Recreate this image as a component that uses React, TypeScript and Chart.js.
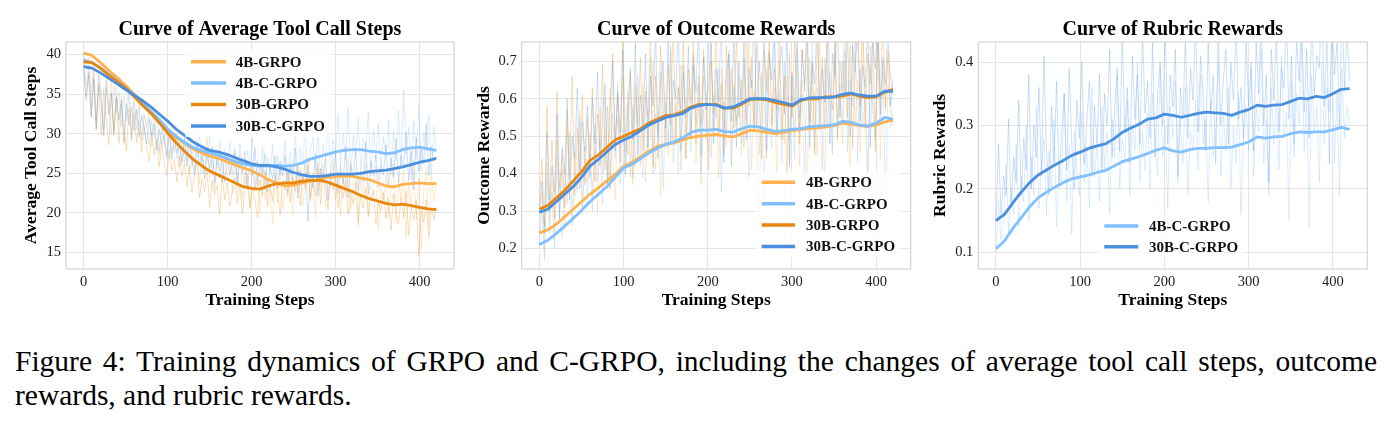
import { useEffect, useRef } from "react";
import { Chart, registerables } from "chart.js";

Chart.register(...registerables);

const SERIF = '"Liberation Serif", "Times New Roman", Times, serif';
Chart.defaults.font.family = SERIF;

const FRAME = "#d4d4d4";
const GRID = "#e6e6e6";

// Series colours
const C_4B = "#ffb24e";
const C_4BC = "#80c0ff";
const C_30B = "#e8870e";
const C_30BC = "#4a8fe0";

// Smoothed curves are sampled every 10 training steps, per-step values every 3.
const SMOOTH_STEP = 10;
const RAW_STEP = 3;

const X_MIN = -21;
const X_MAX = 441;
const X_TICKS = [0, 100, 200, 300, 400];
const TOOL_Y_TICKS = [15, 20, 25, 30, 35, 40];
const OUTCOME_Y_TICKS = [0.2, 0.3, 0.4, 0.5, 0.6, 0.7];
const RUBRIC_Y_TICKS = [0.1, 0.2, 0.3, 0.4];

// ---- Average tool call steps ----
const TOOL_4B_SMOOTH = [40.2, 39.9, 39.0, 38.0, 37.1, 36.1, 35.0, 33.8, 32.6, 31.5, 30.3, 29.5, 28.8, 28.1, 27.6, 27.2, 26.9, 26.5, 26.1, 25.7, 25.3, 24.8, 24.2, 23.7, 23.4, 23.5, 23.8, 24.0, 24.2, 24.5, 24.6, 24.6, 24.6, 24.4, 24.2, 23.8, 23.4, 23.3, 23.6, 23.7, 23.8, 23.7, 23.7];
const TOOL_4BC_SMOOTH = [39.3, 39.0, 38.3, 37.5, 36.7, 35.8, 34.8, 33.8, 32.8, 31.8, 30.6, 29.7, 28.9, 28.3, 27.9, 27.6, 27.3, 26.9, 26.5, 26.2, 26.0, 25.9, 25.9, 26.0, 25.9, 26.0, 26.3, 26.8, 27.1, 27.4, 27.7, 27.9, 28.0, 28.0, 27.8, 27.7, 27.5, 27.6, 28.0, 28.2, 28.3, 28.1, 27.9];
const TOOL_30B_SMOOTH = [39.1, 39.0, 38.3, 37.4, 36.6, 35.8, 34.7, 33.6, 32.6, 31.4, 30.1, 28.9, 27.8, 26.8, 26.0, 25.3, 24.8, 24.3, 23.8, 23.3, 23.1, 23.0, 23.4, 23.7, 23.8, 23.8, 24.0, 24.1, 24.1, 23.9, 23.5, 23.1, 22.7, 22.2, 21.8, 21.5, 21.2, 21.0, 21.1, 20.9, 20.7, 20.5, 20.4];
const TOOL_30BC_SMOOTH = [38.5, 38.3, 37.7, 37.0, 36.3, 35.6, 34.9, 34.2, 33.4, 32.5, 31.6, 30.6, 29.8, 29.0, 28.4, 27.9, 27.7, 27.4, 27.0, 26.6, 26.2, 26.0, 26.0, 25.8, 25.5, 25.1, 24.8, 24.6, 24.6, 24.7, 24.9, 24.9, 24.9, 25.0, 25.2, 25.3, 25.4, 25.6, 25.8, 26.1, 26.4, 26.6, 26.9];

const TOOL_4B_RAW = [
  40.4, 38.1, 39.6, 35.2, 38.9, 31.4, 37.8, 34.6, 29.9, 37.2, 32.8, 36.9, 29.7, 35.9, 31.1, 34.8, 28.6, 33.4, 36.1, 30.2,
  34.3, 31.6, 33.8, 29.7, 32.5, 30.8, 33.1, 28.4, 31.9, 29.6, 27.3, 31.2, 28.8, 30.4, 26.9, 29.8, 27.6, 30.1, 25.8, 28.7,
  26.4, 29.3, 24.9, 27.8, 25.6, 28.9, 23.7, 27.2, 25.1, 29.6, 24.3, 26.8, 22.9, 27.5, 25.4, 23.8, 28.1, 24.6, 26.9, 22.4,
  26.3, 23.1, 27.4, 21.8, 25.2, 23.9, 20.6, 26.1, 22.7, 24.8, 19.9, 25.7, 21.6, 24.2, 22.9, 18.7, 24.6, 21.3, 25.9, 20.4,
  23.8, 21.9, 26.4, 19.8, 24.7, 22.6, 25.8, 20.9, 23.5, 27.1, 21.4, 24.9, 19.3, 25.6, 22.8, 26.2, 20.7, 24.1, 23.2, 26.8,
  21.5, 25.3, 19.6, 24.4, 22.1, 26.9, 20.3, 23.8, 25.1, 18.4, 24.6, 21.9, 26.2, 19.7, 23.4, 22.5, 25.8, 17.9, 23.7, 21.2,
  24.9, 19.4, 22.8, 26.3, 18.6, 24.1, 21.7, 25.4, 16.9, 23.6, 20.8, 26.7, 19.1, 24.3, 15.4, 22.9, 25.8, 18.3, 24.6, 21.4,
  23.9,
];
const TOOL_4BC_RAW = [
  39.6, 36.1, 38.7, 33.4, 38.1, 31.6, 37.3, 35.2, 30.5, 36.8, 33.9, 29.8, 36.1, 32.7, 35.3, 30.9, 34.8, 31.6, 35.1, 29.2,
  33.9, 30.6, 33.2, 29.1, 32.4, 30.9, 28.5, 31.7, 29.4, 32.2, 27.8, 30.6, 28.9, 26.7, 30.3, 27.5, 29.6, 26.9, 28.8, 25.9,
  29.4, 26.6, 31.5, 25.8, 28.7, 27.1, 30.2, 24.9, 28.1, 26.4, 29.7, 24.6, 27.8, 25.7, 29.1, 23.9, 27.4, 26.2, 28.9, 24.8,
  27.6, 24.1, 28.8, 25.3, 23.6, 27.9, 25.9, 29.4, 23.2, 26.7, 24.5, 28.3, 22.9, 26.9, 25.2, 28.6, 23.8, 27.3, 24.7, 26.4,
  29.1, 23.9, 27.6, 25.4, 30.2, 24.6, 28.3, 26.1, 31.4, 24.2, 27.9, 29.6, 25.3, 30.7, 23.8, 28.6, 26.9, 31.8, 25.1, 29.2,
  27.4, 32.6, 25.8, 30.1, 26.7, 33.4, 24.9, 29.8, 27.6, 31.9, 25.4, 29.3, 28.1, 32.8, 24.6, 30.4, 26.9, 31.2, 25.7, 29.6,
  27.2, 31.7, 24.8, 30.3, 26.6, 32.9, 25.9, 35.5, 27.4, 30.8, 24.3, 31.6, 26.8, 33.7, 25.2, 30.1, 28.4, 32.4, 24.7, 30.9,
  28.3,
];
const TOOL_30B_RAW = [
  38.9, 34.2, 37.8, 32.1, 37.0, 30.5, 36.4, 29.8, 35.6, 31.9, 28.6, 35.1, 30.4, 34.6, 28.8, 33.7, 30.9, 27.8, 33.2, 29.4,
  32.6, 28.9, 31.7, 27.6, 30.9, 28.2, 26.5, 30.1, 27.4, 29.3, 25.8, 28.6, 26.1, 24.7, 27.9, 25.3, 26.8, 23.9, 27.1, 24.6,
  26.3, 23.4, 25.9, 22.6, 24.8, 26.7, 21.9, 24.3, 22.8, 25.6, 20.7, 24.1, 22.3, 23.5, 19.8, 24.6, 21.7, 23.9, 20.9, 22.6,
  24.4, 21.2, 23.6, 19.9, 22.8, 24.9, 20.6, 23.3, 21.8, 19.4, 24.2, 22.1, 25.3, 20.8, 23.7, 21.5, 24.8, 22.6, 19.7, 24.1,
  22.9, 25.6, 21.3, 24.4, 22.7, 26.1, 20.9, 24.8, 23.1, 25.9, 21.8, 24.5, 22.2, 26.4, 21.1, 24.9, 23.6, 20.4, 25.2, 22.8,
  24.6, 20.7, 23.2, 21.9, 24.3, 19.8, 22.8, 21.1, 23.9, 18.9, 22.4, 20.6, 23.1, 19.5, 21.9, 22.7, 18.6, 21.4, 20.2, 22.6,
  19.3, 21.8, 17.8, 22.4, 20.1, 18.6, 21.9, 19.4, 22.8, 17.2, 20.7, 19.1, 21.6, 14.6, 20.3, 18.8, 21.7, 16.9, 20.6, 19.2,
  20.8,
];
const TOOL_30BC_RAW = [
  38.1, 34.6, 37.4, 32.2, 36.9, 30.6, 36.1, 33.8, 29.7, 35.9, 32.4, 35.2, 29.9, 34.7, 31.8, 34.3, 28.9, 33.8, 31.1, 33.5,
  30.4, 33.1, 29.6, 32.3, 30.8, 28.7, 31.9, 29.8, 31.2, 27.9, 30.6, 28.6, 29.9, 27.2, 30.1, 26.8, 29.4, 27.6, 28.9, 26.4,
  29.3, 25.9, 28.4, 26.7, 24.8, 28.9, 26.1, 27.8, 24.3, 27.9, 25.6, 28.4, 23.7, 27.1, 25.3, 26.8, 23.9, 27.6, 24.8, 26.3,
  28.1, 23.6, 26.9, 25.1, 27.8, 22.9, 26.4, 24.7, 28.3, 23.4, 26.1, 24.9, 27.5, 22.6, 25.8, 24.3, 27.2, 23.1, 26.5, 24.6,
  27.3, 22.4, 25.9, 24.1, 28.2, 21.8, 25.3, 23.7, 26.8, 18.9, 24.6, 23.2, 27.4, 22.1, 25.6, 23.9, 26.9, 21.6, 25.1, 24.3,
  27.6, 22.5, 25.8, 23.6, 28.4, 21.9, 26.2, 24.4, 27.8, 22.8, 25.3, 23.9, 28.9, 22.3, 26.6, 24.7, 27.3, 23.2, 25.9, 24.8,
  28.6, 23.1, 26.9, 24.5, 29.4, 23.8, 27.2, 25.6, 30.2, 24.1, 27.8, 22.9, 29.6, 25.3, 28.1, 26.2, 31.3, 24.7, 28.4, 26.5,
  27.1,
];

// ---- Outcome rewards ----
const OUT_4B_SMOOTH = [0.242, 0.25, 0.265, 0.285, 0.305, 0.325, 0.345, 0.362, 0.38, 0.398, 0.42, 0.43, 0.445, 0.46, 0.472, 0.478, 0.482, 0.49, 0.497, 0.5, 0.503, 0.505, 0.5, 0.498, 0.507, 0.516, 0.514, 0.51, 0.507, 0.51, 0.515, 0.518, 0.52, 0.522, 0.525, 0.528, 0.535, 0.532, 0.528, 0.526, 0.53, 0.538, 0.543];
const OUT_4BC_SMOOTH = [0.211, 0.222, 0.24, 0.26, 0.28, 0.302, 0.325, 0.345, 0.365, 0.39, 0.415, 0.425, 0.44, 0.455, 0.468, 0.478, 0.485, 0.495, 0.51, 0.516, 0.516, 0.518, 0.512, 0.511, 0.52, 0.527, 0.525, 0.518, 0.513, 0.515, 0.518, 0.52, 0.525, 0.527, 0.528, 0.53, 0.54, 0.537, 0.53, 0.527, 0.535, 0.55, 0.545];
const OUT_30B_SMOOTH = [0.305, 0.315, 0.335, 0.355, 0.38, 0.405, 0.435, 0.45, 0.47, 0.49, 0.5, 0.51, 0.52, 0.535, 0.545, 0.555, 0.557, 0.565, 0.578, 0.585, 0.585, 0.585, 0.575, 0.575, 0.585, 0.598, 0.6, 0.597, 0.59, 0.585, 0.58, 0.595, 0.6, 0.6, 0.605, 0.605, 0.607, 0.613, 0.607, 0.603, 0.605, 0.617, 0.625];
const OUT_30BC_SMOOTH = [0.297, 0.305, 0.325, 0.345, 0.365, 0.39, 0.42, 0.438, 0.458, 0.478, 0.49, 0.5, 0.515, 0.53, 0.54, 0.55, 0.555, 0.56, 0.575, 0.582, 0.585, 0.583, 0.575, 0.578, 0.588, 0.6, 0.6, 0.6, 0.595, 0.59, 0.583, 0.597, 0.602, 0.603, 0.603, 0.605, 0.612, 0.615, 0.61, 0.607, 0.607, 0.62, 0.62];

const OUT_4B_RAW = [
  0.24, 0.35, 0.19, 0.43, 0.27, 0.38, 0.22, 0.49, 0.30, 0.41, 0.25, 0.53, 0.33, 0.28, 0.46, 0.36, 0.57, 0.31, 0.44, 0.38,
  0.51, 0.34, 0.47, 0.29, 0.58, 0.40, 0.52, 0.36, 0.63, 0.43, 0.33, 0.55, 0.47, 0.66, 0.39, 0.59, 0.45, 0.37, 0.61, 0.50,
  0.42, 0.64, 0.38, 0.57, 0.49, 0.70, 0.41, 0.55, 0.34, 0.67, 0.52, 0.45, 0.73, 0.48, 0.59, 0.40, 0.69, 0.53, 0.44, 0.63,
  0.50, 0.71, 0.43, 0.60, 0.37, 0.66, 0.55, 0.46, 0.75, 0.51, 0.62, 0.39, 0.68, 0.56, 0.47, 0.72, 0.42, 0.64, 0.53, 0.58,
  0.45, 0.69, 0.54, 0.76, 0.41, 0.62, 0.50, 0.27, 0.67, 0.57, 0.44, 0.73, 0.52, 0.63, 0.38, 0.70, 0.55, 0.48, 0.66, 0.43,
  0.61, 0.50, 0.74, 0.42, 0.65, 0.56, 0.36, 0.71, 0.53, 0.62, 0.45, 0.77, 0.51, 0.40, 0.68, 0.58, 0.47, 0.72, 0.55, 0.64,
  0.48, 0.70, 0.57, 0.42, 0.75, 0.53, 0.65, 0.46, 0.79, 0.55, 0.37, 0.69, 0.60, 0.50, 0.76, 0.44, 0.67, 0.58, 0.71, 0.52,
  0.56,
];
const OUT_4BC_RAW = [
  0.21, 0.31, 0.17, 0.39, 0.24, 0.35, 0.20, 0.45, 0.28, 0.23, 0.42, 0.32, 0.51, 0.26, 0.40, 0.35, 0.55, 0.29, 0.47, 0.33,
  0.45, 0.30, 0.53, 0.38, 0.49, 0.32, 0.60, 0.41, 0.36, 0.56, 0.44, 0.64, 0.37, 0.52, 0.46, 0.62, 0.39, 0.58, 0.42, 0.66,
  0.48, 0.39, 0.61, 0.45, 0.71, 0.40, 0.56, 0.50, 0.67, 0.36, 0.59, 0.47, 0.74, 0.43, 0.54, 0.63, 0.41, 0.69, 0.51, 0.58,
  0.46, 0.72, 0.53, 0.64, 0.40, 0.57, 0.49, 0.77, 0.44, 0.61, 0.55, 0.68, 0.35, 0.59, 0.50, 0.73, 0.42, 0.63, 0.54, 0.66,
  0.48, 0.71, 0.56, 0.39, 0.65, 0.52, 0.74, 0.45, 0.60, 0.32, 0.68, 0.54, 0.47, 0.76, 0.51, 0.62, 0.43, 0.70, 0.57, 0.49,
  0.66, 0.44, 0.72, 0.55, 0.61, 0.38, 0.69, 0.52, 0.75, 0.47, 0.63, 0.56, 0.41, 0.71, 0.53, 0.67, 0.45, 0.78, 0.50, 0.60,
  0.54, 0.73, 0.46, 0.65, 0.58, 0.80, 0.43, 0.68, 0.52, 0.62, 0.39, 0.74, 0.57, 0.49, 0.77, 0.55, 0.70, 0.32, 0.64, 0.59,
  0.53,
];
const OUT_30B_RAW = [
  0.31, 0.44, 0.26, 0.58, 0.33, 0.49, 0.28, 0.62, 0.36, 0.45, 0.31, 0.57, 0.39, 0.66, 0.34, 0.52, 0.41, 0.61, 0.37, 0.55,
  0.44, 0.63, 0.38, 0.56, 0.47, 0.69, 0.41, 0.58, 0.36, 0.72, 0.49, 0.61, 0.43, 0.76, 0.52, 0.45, 0.67, 0.39, 0.64, 0.53,
  0.71, 0.46, 0.62, 0.55, 0.78, 0.42, 0.66, 0.51, 0.74, 0.58, 0.47, 0.69, 0.53, 0.81, 0.49, 0.63, 0.57, 0.76, 0.44, 0.68,
  0.59, 0.77, 0.48, 0.66, 0.53, 0.73, 0.61, 0.41, 0.70, 0.56, 0.79, 0.50, 0.64, 0.45, 0.74, 0.58, 0.68, 0.52, 0.77, 0.55,
  0.65, 0.47, 0.79, 0.58, 0.71, 0.51, 0.83, 0.60, 0.44, 0.73, 0.62, 0.77, 0.53, 0.68, 0.57, 0.80, 0.49, 0.66, 0.38, 0.72,
  0.55, 0.76, 0.61, 0.48, 0.73, 0.64, 0.82, 0.54, 0.69, 0.45, 0.78, 0.59, 0.71, 0.52, 0.84, 0.63, 0.57, 0.75, 0.49, 0.70,
  0.62, 0.81, 0.55, 0.74, 0.47, 0.69, 0.77, 0.58, 0.85, 0.52, 0.72, 0.64, 0.79, 0.46, 0.76, 0.60, 0.83, 0.57, 0.73, 0.66,
  0.61,
];
const OUT_30BC_RAW = [
  0.29, 0.38, 0.24, 0.51, 0.30, 0.42, 0.35, 0.56, 0.28, 0.47, 0.40, 0.60, 0.33, 0.50, 0.44, 0.63, 0.36, 0.54, 0.46, 0.58,
  0.39, 0.60, 0.48, 0.67, 0.42, 0.55, 0.64, 0.37, 0.59, 0.70, 0.46, 0.62, 0.51, 0.73, 0.40, 0.57, 0.68, 0.49, 0.75, 0.45,
  0.61, 0.53, 0.72, 0.47, 0.66, 0.58, 0.79, 0.44, 0.63, 0.70, 0.52, 0.76, 0.48, 0.65, 0.60, 0.82, 0.46, 0.67, 0.55, 0.74,
  0.50, 0.69, 0.62, 0.80, 0.45, 0.71, 0.57, 0.64, 0.76, 0.48, 0.68, 0.59, 0.83, 0.43, 0.66, 0.72, 0.54, 0.78, 0.47, 0.70,
  0.58, 0.75, 0.49, 0.68, 0.63, 0.84, 0.52, 0.70, 0.60, 0.77, 0.46, 0.72, 0.65, 0.81, 0.50, 0.69, 0.74, 0.56, 0.79, 0.42,
  0.67, 0.58, 0.80, 0.51, 0.73, 0.62, 0.77, 0.47, 0.70, 0.64, 0.85, 0.53, 0.68, 0.59, 0.76, 0.48, 0.72, 0.66, 0.81, 0.55,
  0.70, 0.61, 0.78, 0.50, 0.74, 0.67, 0.86, 0.54, 0.69, 0.63, 0.80, 0.47, 0.75, 0.68, 0.83, 0.56, 0.71, 0.64, 0.79, 0.58,
  0.65,
];

// ---- Rubric rewards ----
const RUB_4BC_SMOOTH = [0.106, 0.118, 0.138, 0.155, 0.172, 0.186, 0.195, 0.203, 0.21, 0.216, 0.219, 0.222, 0.226, 0.229, 0.236, 0.243, 0.247, 0.251, 0.256, 0.261, 0.265, 0.26, 0.258, 0.262, 0.264, 0.264, 0.265, 0.265, 0.266, 0.27, 0.274, 0.282, 0.28, 0.282, 0.283, 0.287, 0.29, 0.289, 0.29, 0.29, 0.293, 0.297, 0.294];
const RUB_30BC_SMOOTH = [0.15, 0.16, 0.178, 0.195, 0.21, 0.222, 0.23, 0.238, 0.245, 0.253, 0.258, 0.264, 0.268, 0.271, 0.279, 0.289, 0.296, 0.302, 0.31, 0.312, 0.318, 0.316, 0.313, 0.316, 0.319, 0.321, 0.32, 0.319, 0.316, 0.321, 0.325, 0.332, 0.33, 0.332, 0.333, 0.338, 0.343, 0.342, 0.346, 0.344, 0.35, 0.357, 0.358];

const RUB_4BC_RAW = [
  0.10, 0.18, 0.12, 0.15, 0.24, 0.13, 0.20, 0.16, 0.27, 0.14, 0.22, 0.18, 0.30, 0.15, 0.25, 0.19, 0.33, 0.17, 0.23, 0.28,
  0.16, 0.26, 0.20, 0.31, 0.14, 0.24, 0.21, 0.35, 0.18, 0.27, 0.13, 0.29, 0.23, 0.19, 0.32, 0.21, 0.26, 0.17, 0.36, 0.22,
  0.27, 0.18, 0.33, 0.23, 0.29, 0.16, 0.31, 0.25, 0.38, 0.20, 0.28, 0.24, 0.34, 0.19, 0.30, 0.26, 0.40, 0.21, 0.29, 0.23,
  0.32, 0.20, 0.35, 0.27, 0.22, 0.39, 0.25, 0.30, 0.17, 0.33, 0.28, 0.37, 0.21, 0.31, 0.24, 0.36, 0.19, 0.29, 0.26, 0.34,
  0.23, 0.38, 0.27, 0.31, 0.18, 0.34, 0.25, 0.29, 0.40, 0.22, 0.32, 0.26, 0.36, 0.20, 0.30, 0.24, 0.35, 0.16, 0.28, 0.33,
  0.26, 0.39, 0.22, 0.33, 0.29, 0.42, 0.24, 0.31, 0.19, 0.36, 0.27, 0.34, 0.23, 0.41, 0.28, 0.32, 0.15, 0.37, 0.25, 0.35,
  0.30, 0.43, 0.26, 0.34, 0.14, 0.38, 0.29, 0.33, 0.21, 0.40, 0.27, 0.36, 0.32, 0.45, 0.24, 0.35, 0.19, 0.39, 0.28, 0.33,
  0.30,
];
const RUB_30BC_RAW = [
  0.15, 0.27, 0.16, 0.22, 0.19, 0.31, 0.17, 0.25, 0.21, 0.34, 0.19, 0.28, 0.23, 0.38, 0.20, 0.30, 0.25, 0.36, 0.22, 0.41,
  0.26, 0.19, 0.33, 0.24, 0.37, 0.21, 0.29, 0.35, 0.23, 0.39, 0.27, 0.20, 0.34, 0.28, 0.40, 0.24, 0.31, 0.37, 0.22, 0.33,
  0.27, 0.38, 0.23, 0.35, 0.30, 0.42, 0.25, 0.33, 0.39, 0.26, 0.44, 0.29, 0.36, 0.24, 0.41, 0.31, 0.38, 0.27, 0.45, 0.32,
  0.37, 0.28, 0.43, 0.25, 0.35, 0.40, 0.30, 0.46, 0.27, 0.38, 0.33, 0.42, 0.22, 0.36, 0.31, 0.44, 0.28, 0.39, 0.34, 0.47,
  0.29, 0.41, 0.35, 0.26, 0.43, 0.32, 0.38, 0.24, 0.45, 0.30, 0.37, 0.42, 0.27, 0.40, 0.34, 0.46, 0.31, 0.36, 0.28, 0.44,
  0.33, 0.40, 0.26, 0.43, 0.35, 0.47, 0.30, 0.38, 0.21, 0.42, 0.34, 0.45, 0.29, 0.39, 0.36, 0.48, 0.31, 0.41, 0.27, 0.44,
  0.37, 0.46, 0.32, 0.42, 0.28, 0.48, 0.35, 0.41, 0.39, 0.50, 0.33, 0.44, 0.24, 0.47, 0.38, 0.43, 0.30, 0.49, 0.36, 0.45,
  0.37,
];

const CAPTION_1 = "Figure 4: Training dynamics of GRPO and C-GRPO, including the changes of average tool call steps, outcome";
const CAPTION_2 = "rewards, and rubric rewards.";

type Series = { label: string; color: string; smooth: number[]; raw: number[] };

type PanelSpec = {
  left: number;
  width: number;
  height: number;
  plot: { l: number; t: number; r: number; b: number };
  yMin: number;
  yMax: number;
  yTicks: number[];
  yDigits: number;
  title: string;
  yTitle: string;
  yTitleX: number;
  legend: { x0: number; x1: number; tx: number; y0: number; gap: number };
  series: Series[];
};

const PANELS: PanelSpec[] = [
  {
    left: 0,
    width: 460,
    height: 320,
    plot: { l: 66, t: 42, r: 454, b: 269 },
    yMin: 12.9,
    yMax: 41.6,
    yTicks: TOOL_Y_TICKS,
    yDigits: 0,
    title: "Curve of Average Tool Call Steps",
    yTitle: "Average Tool Call Steps",
    yTitleX: 31.7,
    legend: { x0: 191, x1: 226, tx: 235.7, y0: 61.7, gap: 21.4 },
    series: [
      { label: "4B-GRPO", color: C_4B, smooth: TOOL_4B_SMOOTH, raw: TOOL_4B_RAW },
      { label: "4B-C-GRPO", color: C_4BC, smooth: TOOL_4BC_SMOOTH, raw: TOOL_4BC_RAW },
      { label: "30B-GRPO", color: C_30B, smooth: TOOL_30B_SMOOTH, raw: TOOL_30B_RAW },
      { label: "30B-C-GRPO", color: C_30BC, smooth: TOOL_30BC_SMOOTH, raw: TOOL_30BC_RAW },
    ],
  },
  {
    left: 460,
    width: 460,
    height: 320,
    plot: { l: 61.7, t: 42, r: 450.7, b: 269 },
    yMin: 0.1455,
    yMax: 0.7515,
    yTicks: OUTCOME_Y_TICKS,
    yDigits: 1,
    title: "Curve of Outcome Rewards",
    yTitle: "Outcome Rewards",
    yTitleX: 24.3,
    legend: { x0: 301.7, x1: 335, tx: 346, y0: 182.3, gap: 21.4 },
    series: [
      { label: "4B-GRPO", color: C_4B, smooth: OUT_4B_SMOOTH, raw: OUT_4B_RAW },
      { label: "4B-C-GRPO", color: C_4BC, smooth: OUT_4BC_SMOOTH, raw: OUT_4BC_RAW },
      { label: "30B-GRPO", color: C_30B, smooth: OUT_30B_SMOOTH, raw: OUT_30B_RAW },
      { label: "30B-C-GRPO", color: C_30BC, smooth: OUT_30BC_SMOOTH, raw: OUT_30BC_RAW },
    ],
  },
  {
    left: 920,
    width: 472,
    height: 320,
    plot: { l: 58.3, t: 42, r: 447.3, b: 269 },
    yMin: 0.074,
    yMax: 0.4315,
    yTicks: RUBRIC_Y_TICKS,
    yDigits: 1,
    title: "Curve of Rubric Rewards",
    yTitle: "Rubric Rewards",
    yTitleX: 20.3,
    legend: { x0: 184.3, x1: 218.3, tx: 229, y0: 226, gap: 20.7 },
    series: [
      { label: "4B-C-GRPO", color: C_4BC, smooth: RUB_4BC_SMOOTH, raw: RUB_4BC_RAW },
      { label: "30B-C-GRPO", color: C_30BC, smooth: RUB_30BC_SMOOTH, raw: RUB_30BC_RAW },
    ],
  },
];

function withAlpha(hex: string, a: number): string {
  const n = parseInt(hex.slice(1), 16);
  return `rgba(${(n >> 16) & 255}, ${(n >> 8) & 255}, ${n & 255}, ${a})`;
}

function toPoints(vals: number[], step: number) {
  return vals.map((y, i) => ({ x: i * step, y }));
}

function Panel({ spec }: { spec: PanelSpec }) {
  const ref = useRef<HTMLCanvasElement>(null);

  useEffect(() => {
    const s = spec;
    if (!ref.current) return;

    // Earlier datasets are painted last, so the smoothed curves sit above the per-step traces
    // and the last legend entry ends up topmost.
    const smoothSets = s.series
      .map((se) => ({
        label: se.label,
        data: toPoints(se.smooth, SMOOTH_STEP),
        borderColor: se.color,
        borderWidth: 2.8,
        pointRadius: 0,
        tension: 0,
        borderJoinStyle: "round" as const,
      }))
      .reverse();
    const rawSets = s.series
      .map((se) => ({
        label: se.label + " raw",
        data: toPoints(se.raw, RAW_STEP),
        borderColor: withAlpha(se.color, 0.28),
        borderWidth: 1,
        pointRadius: 0,
        tension: 0,
      }))
      .reverse();

    const decor = {
      id: "decor",
      afterDatasetsDraw(chart: Chart) {
        const { ctx, chartArea: a } = chart;
        ctx.save();
        // frame around the plotting area
        ctx.strokeStyle = FRAME;
        ctx.lineWidth = 1.2;
        ctx.strokeRect(a.left, a.top, a.right - a.left, a.bottom - a.top);

        // legend
        const lg = s.legend;
        ctx.font = `bold 15px ${SERIF}`;
        const maxW = Math.max(...s.series.map((se) => ctx.measureText(se.label).width));
        const n = s.series.length;
        ctx.fillStyle = "rgba(255,255,255,0.8)";
        ctx.fillRect(lg.x0 - 6, lg.y0 - 11, lg.tx + maxW + 6 - (lg.x0 - 6), (n - 1) * lg.gap + 22);
        s.series.forEach((se, i) => {
          const y = lg.y0 + i * lg.gap;
          ctx.strokeStyle = se.color;
          ctx.lineWidth = 3.5;
          ctx.lineCap = "butt";
          ctx.beginPath();
          ctx.moveTo(lg.x0, y);
          ctx.lineTo(lg.x1, y);
          ctx.stroke();
          ctx.fillStyle = "#111";
          ctx.textAlign = "left";
          ctx.textBaseline = "middle";
          ctx.fillText(se.label, lg.tx, y + 1);
        });

        // titles
        const cx = (a.left + a.right) / 2;
        ctx.fillStyle = "#000";
        ctx.textAlign = "center";
        ctx.textBaseline = "alphabetic";
        ctx.font = `bold 20px ${SERIF}`;
        ctx.fillText(s.title, cx, 35);
        ctx.font = `bold 17.5px ${SERIF}`;
        ctx.fillText("Training Steps", cx, 304.5);
        ctx.translate(s.yTitleX, (a.top + a.bottom) / 2);
        ctx.rotate(-Math.PI / 2);
        ctx.textBaseline = "middle";
        ctx.fillText(s.yTitle, 0, 0);
        ctx.restore();
      },
    };

    const chart = new Chart(ref.current, {
      type: "line",
      data: { datasets: [...smoothSets, ...rawSets] as any },
      options: {
        animation: false,
        responsive: false,
        maintainAspectRatio: false,
        layout: { padding: { top: s.plot.t, right: s.width - s.plot.r, left: 0, bottom: 0 } },
        plugins: { legend: { display: false }, tooltip: { enabled: false }, title: { display: false } },
        elements: { point: { radius: 0 } },
        scales: {
          x: {
            type: "linear",
            min: X_MIN,
            max: X_MAX,
            afterBuildTicks: (sc: any) => {
              sc.ticks = X_TICKS.map((v) => ({ value: v }));
            },
            afterFit: (sc: any) => {
              sc.height = s.height - s.plot.b;
            },
            grid: { color: GRID, lineWidth: 1, drawTicks: false },
            border: { display: false },
            ticks: {
              color: "#222",
              font: { family: SERIF, size: 14.5 },
              padding: 4,
              maxRotation: 0,
              autoSkip: false,
              callback: (v: any) => String(v),
            },
          },
          y: {
            type: "linear",
            min: s.yMin,
            max: s.yMax,
            afterBuildTicks: (sc: any) => {
              sc.ticks = s.yTicks.map((v) => ({ value: v }));
            },
            afterFit: (sc: any) => {
              sc.width = s.plot.l;
            },
            grid: { color: GRID, lineWidth: 1, drawTicks: false },
            border: { display: false },
            ticks: {
              color: "#222",
              font: { family: SERIF, size: 14.5 },
              padding: 5,
              autoSkip: false,
              callback: (v: any) => Number(v).toFixed(s.yDigits),
            },
          },
        },
      },
      plugins: [decor],
    });
    return () => chart.destroy();
  }, [spec]);

  return (
    <canvas
      ref={ref}
      width={spec.width}
      height={spec.height}
      style={{ position: "absolute", left: spec.left, top: 0, width: spec.width, height: spec.height }}
    />
  );
}

export default function App() {
  const captionStyle: React.CSSProperties = {
    position: "absolute",
    left: 15,
    width: 1362,
    fontFamily: SERIF,
    fontSize: 29.5,
    lineHeight: "33.5px",
    color: "#000",
    whiteSpace: "nowrap",
  };
  return (
    <div style={{ position: "absolute", left: 0, top: 0, width: 1392, height: 431, background: "#fff", overflow: "hidden" }}>
      {PANELS.map((p, i) => (
        <Panel key={i} spec={p} />
      ))}
      <div style={{ ...captionStyle, top: 345, textAlign: "justify", textAlignLast: "justify" }}>{CAPTION_1}</div>
      <div style={{ ...captionStyle, top: 378.5 }}>{CAPTION_2}</div>
    </div>
  );
}
